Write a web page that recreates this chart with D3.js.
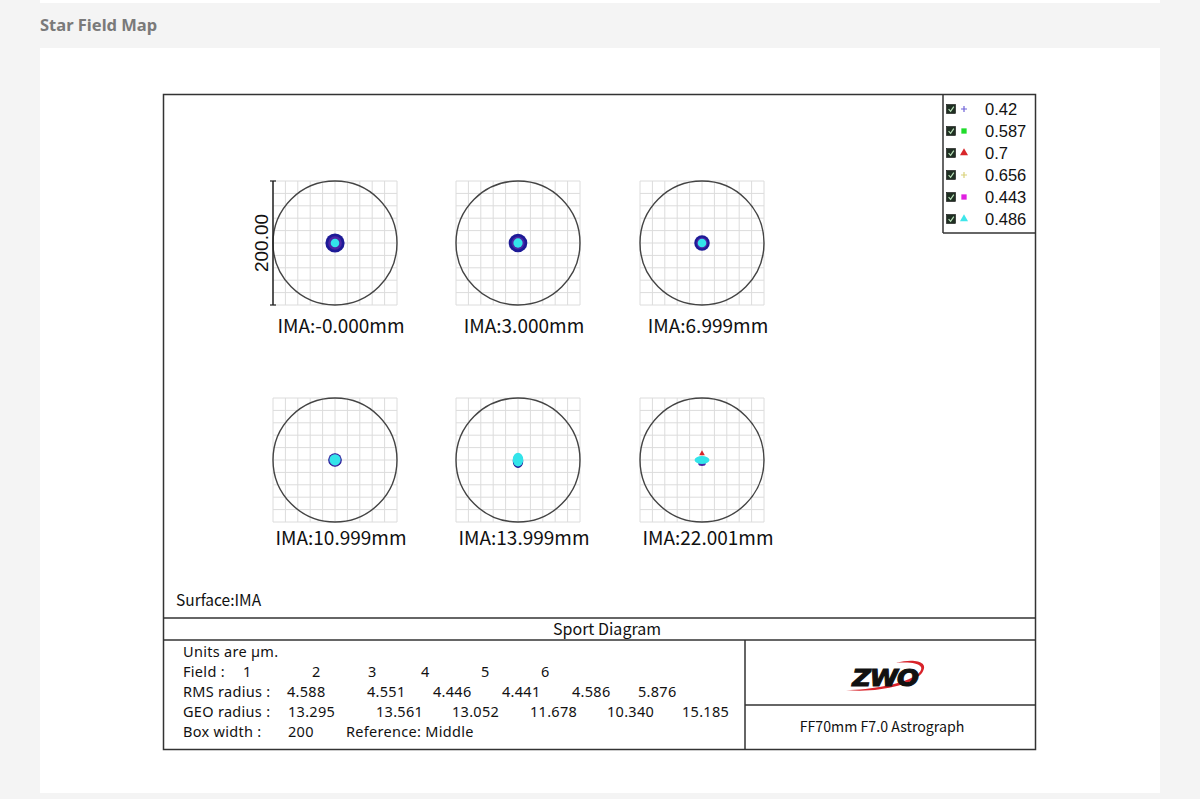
<!DOCTYPE html>
<html>
<head>
<meta charset="utf-8">
<script src="https://cdn.jsdelivr.net/npm/d3@7"></script>
<style>
  html, body { margin: 0; padding: 0; background: #f4f4f4; }
  svg { display: block; }
</style>
</head>
<body>
<svg id="chart" width="1200" height="799"></svg>
<script>
// field labels, one per spot diagram
const fieldLabels = ['IMA:-0.000mm', 'IMA:3.000mm', 'IMA:6.999mm', 'IMA:10.999mm', 'IMA:13.999mm', 'IMA:22.001mm']
const boxWidth = 200 // µm

// wavelengths (µm) shown in legend
const waves = ['0.42', '0.587', '0.7', '0.656', '0.443', '0.486']
const waveShapes = ['plus', 'square', 'triangle', 'plus', 'square', 'triangle']
const legendColors = ['#6f63d8', '#1fdc2a', '#d8262a', '#d9d27a', '#e01fe0', '#3fe6ea']
const spotColors = ['#1d1a96', '#1fdc2a', '#d8262a', '#d9d27a', '#4b26a6', '#33e4ea']

// spot extents: [field, wave, rx µm, ry µm, dy µm]
const spots = [
  [0, 0, 15.5, 15.5, 0], [0, 4, 11, 11, 0], [0, 5, 7, 7, 0],
  [1, 0, 15, 15, 0], [1, 4, 10.5, 10.5, 0], [1, 5, 7.5, 7.5, 0],
  [2, 0, 12.5, 12.5, 0], [2, 4, 9, 9, 0], [2, 5, 7, 7, 0],
  [3, 0, 11, 11, 0], [3, 4, 10, 10, 0], [3, 5, 9, 9, 0.3],
  [4, 0, 8.5, 11.5, -1.5], [4, 5, 8.5, 11, 0.5],
  [5, 4, 6, 3.5, -6], [5, 5, 12, 6.5, 0]
]
// single rays sticking out: [field, wave, dx µm, dy µm]
const strayRays = [[5, 2, 0, 10.5]]

// table values
const fieldNums = ['1', '2', '3', '4', '5', '6']
const rmsRadius = ['4.588', '4.551', '4.446', '4.441', '4.586', '5.876']
const geoRadius = ['13.295', '13.561', '13.052', '11.678', '10.340', '15.185']

// layout
const colX = [335, 518, 702]
const rowY = [243, 460]
const labelDy = [90, 85]
const half = 62
const fieldColX = [243, 312, 368, 421, 481, 541]
const rmsColX = [287, 367, 433, 502, 572, 638]
const geoColX = [288, 376, 452, 530, 607, 682]
const tableRowY = [657, 677, 697, 717, 737]

const svg = d3.select('#chart')
const font = '"Noto Sans CJK SC", "Noto Sans", sans-serif'
const tableFont = '"Noto Sans", sans-serif'
const arial = '"Liberation Sans", Arial, sans-serif'
const ink = '#333'

// page
svg.append('rect').attr('x', 40).attr('y', 0).attr('width', 1120).attr('height', 3).attr('fill', '#fff')
svg.append('text').attr('x', 40).attr('y', 31).text('Star Field Map')
  .attr('font-family', '"Noto Sans", sans-serif').attr('font-weight', 700)
  .attr('font-size', 16.5).attr('fill', '#7a7a7a')
svg.append('rect').attr('x', 40).attr('y', 48).attr('width', 1120).attr('height', 745).attr('fill', '#fff')

// frame
const frame = svg.append('g').attr('fill', 'none').attr('stroke', ink).attr('stroke-width', 1.5)
frame.append('rect').attr('x', 163.5).attr('y', 94.5).attr('width', 872).attr('height', 655)
frame.append('line').attr('x1', 163.5).attr('x2', 1035.5).attr('y1', 618).attr('y2', 618)
frame.append('line').attr('x1', 163.5).attr('x2', 1035.5).attr('y1', 640).attr('y2', 640)
frame.append('line').attr('x1', 745).attr('x2', 745).attr('y1', 640).attr('y2', 750)
frame.append('line').attr('x1', 745).attr('x2', 1035.5).attr('y1', 705).attr('y2', 705)
frame.append('line').attr('x1', 943).attr('x2', 943).attr('y1', 94.5).attr('y2', 233)
frame.append('line').attr('x1', 943).attr('x2', 1035.5).attr('y1', 233).attr('y2', 233)

// spot diagrams
fieldLabels.forEach((label, i) => {
  const row = Math.floor(i / 3)
  const cx = colX[i % 3]
  const cy = rowY[row]
  const x = d3.scaleLinear().domain([-boxWidth / 2, boxWidth / 2]).range([cx - half, cx + half])
  const y = d3.scaleLinear().domain([-boxWidth / 2, boxWidth / 2]).range([cy + half, cy - half])
  const g = svg.append('g')

  g.append('g').selectAll('line').data(x.ticks(10)).enter().append('line')
    .attr('x1', d => x(d)).attr('x2', d => x(d)).attr('y1', y(-100)).attr('y2', y(100))
    .attr('stroke', '#dcdcdc').attr('stroke-width', 1)
  g.append('g').selectAll('line').data(y.ticks(10)).enter().append('line')
    .attr('y1', d => y(d)).attr('y2', d => y(d)).attr('x1', x(-100)).attr('x2', x(100))
    .attr('stroke', '#dcdcdc').attr('stroke-width', 1)

  g.append('circle').attr('cx', x(0)).attr('cy', y(0)).attr('r', x(boxWidth / 2) - x(0))
    .attr('fill', 'none').attr('stroke', '#444').attr('stroke-width', 1.4)

  g.selectAll('ellipse').data(spots.filter(s => s[0] === i)).enter().append('ellipse')
    .attr('cx', x(0)).attr('cy', s => y(s[4]))
    .attr('rx', s => x(s[2]) - x(0)).attr('ry', s => x(s[3]) - x(0))
    .attr('fill', s => spotColors[s[1]])

  strayRays.filter(r => r[0] === i).forEach(r => {
    g.append('path').attr('d', d3.symbol(d3.symbolTriangle, 14)())
      .attr('transform', `translate(${x(r[2])},${y(r[3])})`)
      .attr('fill', spotColors[r[1]])
  })

  g.append('text').attr('x', cx + 6).attr('y', cy + labelDy[row]).attr('text-anchor', 'middle')
    .attr('font-family', font).attr('font-size', 19).attr('fill', '#111').text(label)

  if (i === 0) {
    const bx = x(-100)
    g.append('line').attr('x1', bx).attr('x2', bx).attr('y1', y(100)).attr('y2', y(-100))
      .attr('stroke', '#222').attr('stroke-width', 1.5)
    ;[100, -100].forEach(v => {
      g.append('line').attr('x1', bx - 3).attr('x2', bx + 3).attr('y1', y(v)).attr('y2', y(v))
        .attr('stroke', '#222').attr('stroke-width', 1.2)
    })
    g.append('text').attr('transform', `translate(${bx - 5},${y(0)}) rotate(-90)`)
      .attr('text-anchor', 'middle').attr('font-family', arial).attr('font-size', 19)
      .attr('fill', '#111').text(boxWidth.toFixed(2))
  }
})

// legend
const legend = svg.append('g')
waves.forEach((w, i) => {
  const ly = 109 + i * 22
  const row = legend.append('g').attr('transform', `translate(0,${ly})`)
  row.append('rect').attr('x', 946.5).attr('y', -4.5).attr('width', 9).attr('height', 9)
    .attr('fill', '#1f2f22').attr('stroke', '#111').attr('stroke-width', 0.6)
  row.append('path').attr('d', 'M948.6,0.2 L950.6,2.4 L953.8,-2.4')
    .attr('fill', 'none').attr('stroke', '#b8e0b8').attr('stroke-width', 1.2)
  if (waveShapes[i] === 'plus') {
    row.append('path').attr('d', 'M961,0 L967,0 M964,-3 L964,3')
      .attr('stroke', legendColors[i]).attr('stroke-width', 1.2)
  } else {
    const sym = waveShapes[i] === 'square' ? d3.symbolSquare : d3.symbolTriangle
    row.append('path').attr('d', d3.symbol(sym, 28)()).attr('transform', 'translate(964,0)')
      .attr('fill', legendColors[i])
  }
  row.append('text').attr('x', 985).attr('y', 5.5).attr('font-family', arial).attr('font-size', 16.5)
    .attr('fill', '#111').text(w)
})

// bottom block
const txt = (x, y, s, size, anchor, family) => svg.append('text').attr('x', x).attr('y', y)
  .attr('font-family', family || font).attr('font-size', size || 15.5).attr('fill', '#111')
  .attr('text-anchor', anchor || 'start').text(s)
const cell = (x, y, s) => txt(x, y, s, 14.5, 'start', tableFont).attr('letter-spacing', 0.3)

txt(176, 606, 'Surface:IMA')
txt(607, 634.5, 'Sport Diagram', 16, 'middle')
cell(183, tableRowY[0], 'Units are µm.')
cell(183, tableRowY[1], 'Field :')
fieldNums.forEach((v, i) => cell(fieldColX[i], tableRowY[1], v))
cell(183, tableRowY[2], 'RMS radius :')
rmsRadius.forEach((v, i) => cell(rmsColX[i], tableRowY[2], v))
cell(183, tableRowY[3], 'GEO radius :')
geoRadius.forEach((v, i) => cell(geoColX[i], tableRowY[3], v))
cell(183, tableRowY[4], 'Box width :')
cell(288, tableRowY[4], String(boxWidth))
cell(346, tableRowY[4], 'Reference: Middle')
txt(882, 731.5, 'FF70mm F7.0 Astrograph', 14.2, 'middle')

// logo
const logo = svg.append('g')
logo.append('path')
  .attr('d', 'M846,690 C870,690 905,684 918,674 C926,667 920,661 896,663 C915,658 930,662 922,673 C912,685 878,693 846,690 Z')
  .attr('fill', '#d8232a')
logo.append('text').attr('x', 885).attr('y', 686).attr('text-anchor', 'middle')
  .attr('font-family', '"DejaVu Sans", sans-serif').attr('font-weight', 700).attr('font-style', 'italic')
  .attr('font-size', 23).attr('letter-spacing', -1).attr('fill', '#111')
  .attr('stroke', '#111').attr('stroke-width', 1.1)
  .attr('transform', 'translate(885,0) scale(1.12,1) translate(-885,0)')
  .text('ZWO')
</script>
</body>
</html>
